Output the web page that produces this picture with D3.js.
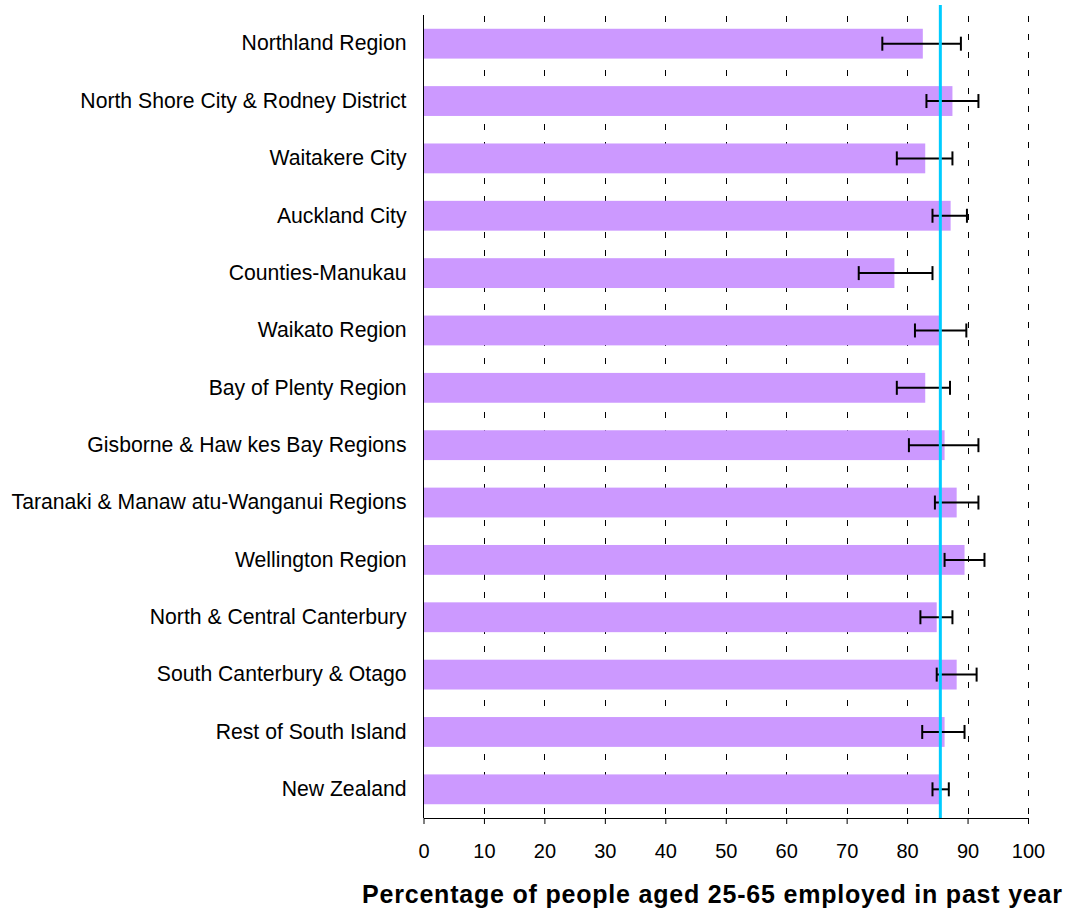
<!DOCTYPE html>
<html><head><meta charset="utf-8">
<script src="https://cdn.jsdelivr.net/npm/d3@7"></script>
<style>body{margin:0;background:#fff;} svg{display:block;font-family:"Liberation Sans",Arial,sans-serif;}</style>
</head><body>
<svg id="chart" width="1070" height="909"></svg>
<script>
const categories = ["Northland Region","North Shore City & Rodney District","Waitakere City","Auckland City","Counties-Manukau","Waikato Region","Bay of Plenty Region","Gisborne & Haw kes Bay Regions","Taranaki & Manaw atu-Wanganui Regions","Wellington Region","North & Central Canterbury","South Canterbury & Otago","Rest of South Island","New  Zealand"];
const values = [82.6,87.5,83.0,87.2,77.9,85.4,83.0,86.2,88.2,89.5,84.9,88.2,86.2,85.4];
const lower = [75.9,83.2,78.3,84.2,72.0,81.3,78.3,80.3,84.6,86.2,82.2,84.9,82.5,84.2];
const upper = [88.9,91.8,87.5,89.9,84.2,89.8,87.1,91.8,91.8,92.8,87.5,91.5,89.5,86.9];
const referenceValue = 85.5;
const xTicks = [0,10,20,30,40,50,60,70,80,90,100];
const xTitle = "Percentage of people aged 25-65 employed in past year";

const svg = d3.select("#chart");
const pLeft = 423.5, pRight = 1028, pTop = 15, pBottom = 818;
const x = d3.scaleLinear().domain([0,100]).range([pLeft,pRight]);
const y = d3.scaleBand().domain(categories).range([pTop,pBottom]).paddingInner(0.48).paddingOuter(0.24);

// gridlines
svg.append("g").selectAll("line").data(xTicks.filter(d=>d>0)).join("line")
  .attr("x1",d=>Math.round(x(d))+0.5).attr("x2",d=>Math.round(x(d))+0.5)
  .attr("y1",pTop).attr("y2",pBottom)
  .attr("stroke","#000").attr("stroke-width",1).attr("stroke-dasharray","6,12").attr("stroke-dashoffset",-1);

// bars
svg.append("g").selectAll("rect").data(categories).join("rect")
  .attr("x",x(0)).attr("y",d=>y(d))
  .attr("width",(d,i)=>x(values[i])-x(0)).attr("height",y.bandwidth())
  .attr("fill","#cc99ff");

// error bars
const eb = svg.append("g").attr("stroke","#000").attr("stroke-width",2);
categories.forEach((c,i)=>{
  const cy = y(c)+y.bandwidth()/2;
  eb.append("line").attr("x1",x(lower[i])).attr("x2",x(upper[i])).attr("y1",cy).attr("y2",cy);
  eb.append("line").attr("x1",x(lower[i])).attr("x2",x(lower[i])).attr("y1",cy-7).attr("y2",cy+7);
  eb.append("line").attr("x1",x(upper[i])).attr("x2",x(upper[i])).attr("y1",cy-7).attr("y2",cy+7);
});

// reference line
svg.append("line").attr("x1",x(referenceValue)).attr("x2",x(referenceValue))
  .attr("y1",5).attr("y2",pBottom).attr("stroke","#00ccff").attr("stroke-width",3);

// y axis
const yAxis = svg.append("g").attr("transform",`translate(${pLeft},0)`)
  .call(d3.axisLeft(y).tickSize(0).tickPadding(17));
yAxis.select(".domain").attr("stroke","#000").attr("d",`M0,${pTop}V${pBottom}`);
yAxis.selectAll("text").attr("font-size",21.2).attr("fill","#000").style("font-family","'Liberation Sans',Arial,sans-serif");

// x axis
const xAxis = svg.append("g").attr("transform",`translate(0,${pBottom})`)
  .call(d3.axisBottom(x).tickValues(xTicks).tickSize(6).tickSizeOuter(0).tickPadding(20));
xAxis.select(".domain").attr("stroke","#000");
xAxis.selectAll("line").attr("stroke","#000");
xAxis.selectAll("text").attr("font-size",20).attr("fill","#000").style("font-family","'Liberation Sans',Arial,sans-serif");

svg.append("text").attr("x",362).attr("y",903).attr("font-size",25).attr("font-weight","bold")
  .attr("textLength",700).attr("lengthAdjust","spacing")
  .style("font-family","'Liberation Sans',Arial,sans-serif").text(xTitle);
</script>
</body></html>
